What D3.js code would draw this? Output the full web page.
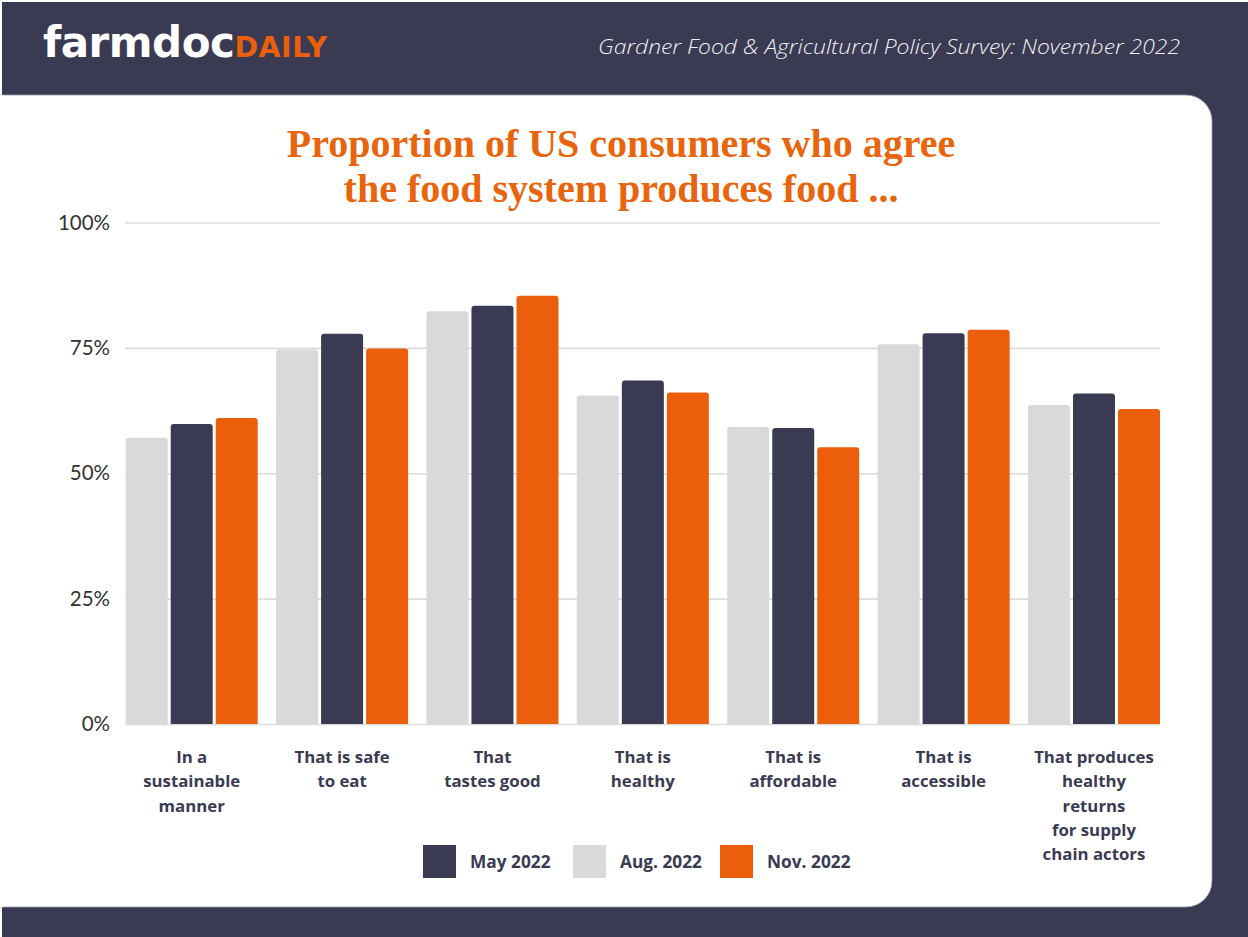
<!DOCTYPE html>
<html>
<head>
<meta charset="utf-8">
<script src="https://cdn.jsdelivr.net/npm/d3@7"></script>
<style>
  html, body { margin: 0; padding: 0; background: #ffffff; }
  svg { display: block; }
</style>
</head>
<body>
<svg id="chart" width="1248" height="937"></svg>
<script>
// ---- Data ----
const categories = [
  ["In a", "sustainable", "manner"],
  ["That is safe", "to eat"],
  ["That", "tastes good"],
  ["That is", "healthy"],
  ["That is", "affordable"],
  ["That is", "accessible"],
  ["That produces", "healthy", "returns", "for supply", "chain actors"]
];
const categoryKeys = ["sustainable", "safe", "tastes", "healthy", "affordable", "accessible", "returns"];
const seriesNames = ["Aug. 2022", "May 2022", "Nov. 2022"];      // bar order within group
const legendNames = ["May 2022", "Aug. 2022", "Nov. 2022"];      // legend order
const may2022 = [59.8, 77.8, 83.4, 68.5, 59.0, 77.9, 65.9];
const aug2022 = [57.1, 74.7, 82.3, 65.5, 59.2, 75.7, 63.6];
const nov2022 = [61.0, 74.9, 85.4, 66.1, 55.2, 78.6, 62.8];
const yTicks = [0, 25, 50, 75, 100];
const titleLines = ["Proportion of US consumers who agree", "the food system produces food ..."];
const headerRight = "Gardner Food & Agricultural Policy Survey: November 2022";

const seriesValues = { "May 2022": may2022, "Aug. 2022": aug2022, "Nov. 2022": nov2022 };
const colors = { "May 2022": "#3a3b52", "Aug. 2022": "#d9d9d9", "Nov. 2022": "#eb5e0b" };

const NAVY = "#3a3b52";
const ORANGE = "#eb5e0b";

const svg = d3.select("#chart");

// ---- Background frame ----
svg.append("rect").attr("x", 2).attr("y", 2).attr("width", 1246).attr("height", 935).attr("fill", NAVY);

// white panel with rounded right corners
const px0 = 0, py0 = 95, px1 = 1212, py1 = 907, r = 26;
const panelPath = d3.path();
panelPath.moveTo(px0, py0);
panelPath.lineTo(px1 - r, py0);
panelPath.arcTo(px1, py0, px1, py0 + r, r);
panelPath.lineTo(px1, py1 - r);
panelPath.arcTo(px1, py1, px1 - r, py1, r);
panelPath.lineTo(px0, py1);
panelPath.closePath();
svg.append("path").attr("d", panelPath.toString()).attr("fill", "#ffffff")
  .attr("stroke", "#9a9bab").attr("stroke-width", 0.8);
svg.append("rect").attr("x", 0).attr("y", 95).attr("width", 3).attr("height", 812).attr("fill", "#fff");

// ---- Header ----
const logo = svg.append("text").attr("x", 43).attr("y", 57)
  .attr("font-family", "'DejaVu Sans', sans-serif").attr("font-weight", "bold");
logo.append("tspan").attr("font-size", 42).attr("fill", "#ffffff").attr("letter-spacing", -0.5).text("farmdoc");
logo.append("tspan").attr("font-size", 28.5).attr("fill", ORANGE).attr("letter-spacing", 0.5).text("DAILY");

svg.append("text").attr("x", 1180).attr("y", 54).attr("text-anchor", "end")
  .attr("font-family", "'Open Sans', sans-serif").attr("font-style", "italic").attr("font-weight", 300)
  .attr("font-size", 21).attr("fill", "#f0f0f4")
  .attr("textLength", 582).attr("lengthAdjust", "spacingAndGlyphs")
  .text(headerRight);

// ---- Title ----
svg.append("g").selectAll("text").data(titleLines).join("text")
  .attr("x", 621).attr("y", (d, i) => 157 + i * 45)
  .attr("text-anchor", "middle")
  .attr("font-family", "'Liberation Serif', serif").attr("font-weight", "bold")
  .attr("font-size", 40).attr("fill", "#e8650e")
  .text(d => d);

// ---- Scales ----
const y = d3.scaleLinear().domain([0, 100]).range([724, 222.5]);
const x0 = d3.scaleBand().domain(categoryKeys).range([125.7, 1160]).paddingInner(0.122).paddingOuter(0);
const x1 = d3.scaleBand().domain(seriesNames).range([0, x0.bandwidth()]).paddingInner(0.067);

// ---- Gridlines & y labels ----
const yAxis = d3.axisLeft(y).tickValues(yTicks).tickFormat(d => d + "%").tickSize(-(1160 - 125)).tickPadding(15);
const gy = svg.append("g").attr("transform", "translate(125,0)").call(yAxis);
gy.select(".domain").remove();
gy.selectAll(".tick line").attr("stroke", "#dcdcdc").attr("stroke-width", 1.6);
gy.selectAll(".tick text").attr("font-family", "Lato, sans-serif").attr("font-size", 20.5)
  .attr("fill", "#333333").attr("x", -15);

// ---- Bars ----
function topRounded(x, yTop, w, h, rr) {
  const p = d3.path();
  rr = Math.min(rr, h, w / 2);
  p.moveTo(x, yTop + h);
  p.lineTo(x, yTop + rr);
  p.arcTo(x, yTop, x + rr, yTop, rr);
  p.lineTo(x + w - rr, yTop);
  p.arcTo(x + w, yTop, x + w, yTop + rr, rr);
  p.lineTo(x + w, yTop + h);
  p.closePath();
  return p.toString();
}

const groups = svg.append("g").selectAll("g").data(categoryKeys).join("g")
  .attr("transform", d => `translate(${x0(d)},0)`);
groups.selectAll("path").data((d, i) => seriesNames.map(s => ({ s, v: seriesValues[s][i] }))).join("path")
  .attr("d", d => topRounded(x1(d.s), y(d.v), x1.bandwidth(), y(0) - y(d.v), 3))
  .attr("fill", d => colors[d.s]);

// ---- Category labels ----
const labelG = svg.append("g");
categoryKeys.forEach((k, i) => {
  const t = labelG.append("text")
    .attr("x", x0(k) + x0.bandwidth() / 2).attr("y", 763)
    .attr("text-anchor", "middle")
    .attr("font-family", "'Open Sans', sans-serif").attr("font-weight", 700)
    .attr("font-size", 16.8).attr("fill", NAVY);
  categories[i].forEach((line, j) => {
    t.append("tspan").attr("x", x0(k) + x0.bandwidth() / 2).attr("dy", j === 0 ? 0 : 24.3).text(line);
  });
});

// ---- Legend ----
const legendX = [423, 573, 720];
const lg = svg.append("g").selectAll("g").data(legendNames).join("g")
  .attr("transform", (d, i) => `translate(${legendX[i]},845)`);
lg.append("rect").attr("width", 33).attr("height", 33).attr("fill", d => colors[d]);
lg.append("text").attr("x", 47).attr("y", 22.5)
  .attr("font-family", "'Open Sans', sans-serif").attr("font-weight", 700)
  .attr("font-size", 17.3).attr("fill", NAVY).text(d => d);
</script>
</body>
</html>
